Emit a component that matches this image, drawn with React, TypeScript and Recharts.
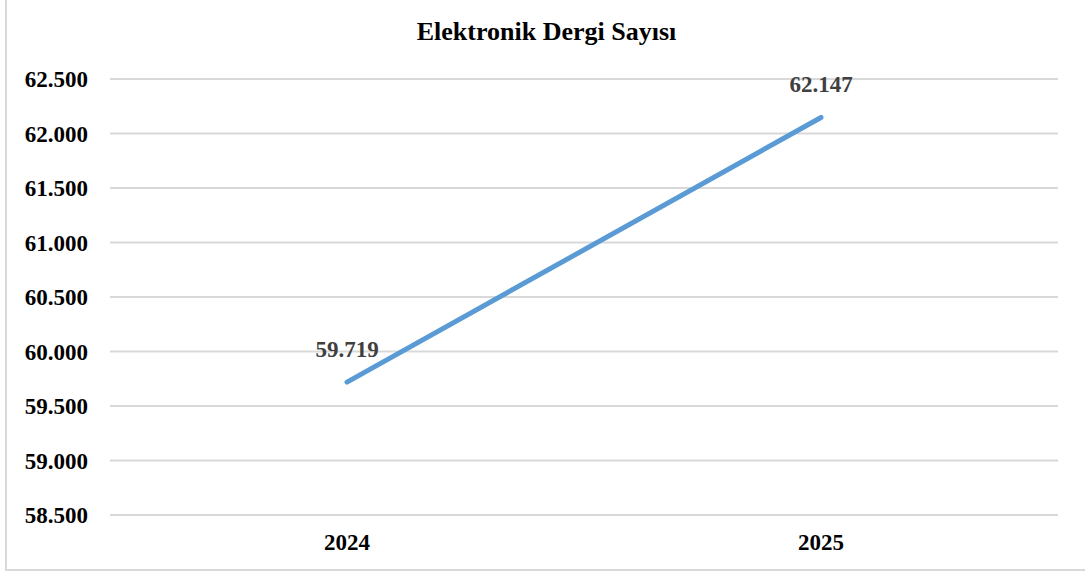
import React from "react";
import { LineChart, Line, XAxis, YAxis, CartesianGrid, LabelList } from "recharts";

const years = ["2024", "2025"];
const journalCounts = [59719, 62147];
const yTicks = [58500, 59000, 59500, 60000, 60500, 61000, 61500, 62000, 62500];

const data = years.map((year, i) => ({ year, count: journalCounts[i] }));

const fmt = (v: number) => v.toLocaleString("tr-TR");

const FONT = "'Liberation Serif', 'Times New Roman', serif";

export default function App() {
  return (
    <div
      style={{
        position: "fixed",
        left: 0,
        top: 0,
        width: 1085,
        height: 577,
        background: "#fff",
        fontFamily: FONT,
      }}
    >
      <div
        style={{
          position: "absolute",
          left: 5,
          top: -4,
          width: 1090,
          height: 575,
          border: "2px solid #d9d9d9",
          boxSizing: "border-box",
        }}
      />
      <div
        style={{
          position: "absolute",
          left: 5,
          width: 1083,
          top: 17,
          textAlign: "center",
          fontWeight: "bold",
          fontSize: 26,
          lineHeight: "30px",
          color: "#000",
        }}
      >
        Elektronik Dergi Sayısı
      </div>
      <div style={{ position: "absolute", left: 0, top: 0 }}>
        <LineChart
          width={1085}
          height={577}
          data={data}
          margin={{ top: 79, right: 27, left: 0, bottom: 0 }}
        >
          <CartesianGrid vertical={false} stroke="#d9d9d9" strokeWidth={2} />
          <XAxis
            dataKey="year"
            axisLine={false}
            tickLine={false}
            tickSize={0}
            tickMargin={19}
            height={62}
            padding={{ left: 237, right: 237 }}
            tick={{ fontSize: 23, fontWeight: "bold", fill: "#000", fontFamily: FONT }}
          />
          <YAxis
            domain={[58500, 62500]}
            ticks={yTicks}
            width={110}
            axisLine={false}
            tickLine={false}
            tickSize={0}
            tickMargin={22}
            tickFormatter={fmt}
            tick={{ fontSize: 23, fontWeight: "bold", fill: "#000", fontFamily: FONT }}
          />
          <Line
            dataKey="count"
            stroke="#5B9BD5"
            strokeWidth={5}
            strokeLinecap="round"
            dot={false}
            isAnimationActive={false}
          >
            <LabelList
              dataKey="count"
              position="top"
              offset={25}
              formatter={(v: any) => fmt(Number(v))}
              style={{ fontSize: 23, fontWeight: "bold", fill: "#404040", fontFamily: FONT }}
            />
          </Line>
        </LineChart>
      </div>
    </div>
  );
}
